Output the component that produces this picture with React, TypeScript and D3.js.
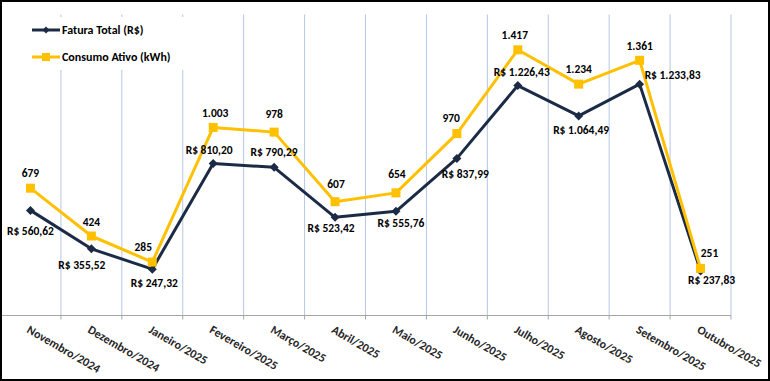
import React from "react";
import * as d3 from "d3";

const categories = [
  "Novembro/2024", "Dezembro/2024", "Janeiro/2025", "Fevereiro/2025", "Março/2025", "Abril/2025",
  "Maio/2025", "Junho/2025", "Julho/2025", "Agosto/2025", "Setembro/2025", "Outubro/2025",
];
const faturaTotal = [560.62, 355.52, 247.32, 810.2, 790.29, 523.42, 555.76, 837.99, 1226.43, 1064.49, 1233.83, 237.83];
const consumoAtivo = [679, 424, 285, 1003, 978, 607, 654, 970, 1417, 1234, 1361, 251];
const yDomain = [0, 1600];

// label placement nudges (layout, not data)
const faturaLabelDx = [0, -9.5, 2, -4, 0, -4, 5, 8.5, 4, 2.4, 0, 11];
const faturaLabelDy = [25, 20, 18, -10, -11, 14.5, 16, 19.4, -10, 17.6, -5.4, 13];
const faturaLabelAnchor = ["middle", "middle", "middle", "middle", "middle", "middle", "middle", "middle", "middle", "middle", "start", "middle"];
const consumoLabelDx = [0, 0, -9, 2, 0, 1, 1, -5.7, -3, 0, 0, 9];
const consumoLabelDy = [-11, -10, -11.3, -10.7, -14, -14, -14.5, -12, -10.8, -10.8, -10.4, -11];

const W = 770;
const H = 381;
const NAVY = "#1c2b45";
const GOLD = "#FFC000";
const GRID = "#b4c7e7";
const FONT = "Carlito, Calibri, Lato, sans-serif";

const fmtBRL = (v: number) => {
  const [i, d] = v.toFixed(2).split(".");
  const ii = i.replace(/\B(?=(\d{3})+(?!\d))/g, ".");
  return `R$ ${ii},${d}`;
};
const fmtInt = (v: number) => String(v).replace(/\B(?=(\d{3})+(?!\d))/g, ".");

export default function App() {
  const x = d3.scaleBand<string>().domain(categories).range([0, 731]).padding(0);
  const y = d3.scaleLinear().domain(yDomain).range([315.5, 15.5]);
  const cx = (i: number) => (x(categories[i]) as number) + x.bandwidth() / 2;

  const line = d3
    .line<number>()
    .x((_, i) => cx(i))
    .y((d) => y(d));

  const diamond = (r: number) => `M0,${-r}L${r},0L0,${r}L${-r},0Z`;
  const boundaries = d3.range(0, categories.length + 1).map((i) => i * x.step());
  const yTop = y(yDomain[1]) - 1;
  const yBase = y(0);

  return (
    <svg
      width={W}
      height={H}
      style={{ position: "absolute", left: 0, top: 0, background: "#fff" }}
      fontFamily={FONT}
    >
      <rect x={0} y={0} width={W} height={H} fill="#fff" />
      {/* gridlines */}
      {boundaries.slice(1).map((b, i) => (
        <line key={"g" + i} x1={b} x2={b} y1={yTop} y2={yBase} stroke={GRID} strokeWidth={1} />
      ))}
      {/* axis */}
      <line x1={0} x2={boundaries[boundaries.length - 1]} y1={yBase} y2={yBase} stroke="#a6a6a6" strokeWidth={1} />
      {boundaries.map((b, i) => (
        <line key={"t" + i} x1={b} x2={b} y1={yBase} y2={yBase + 4} stroke="#a6a6a6" strokeWidth={1} />
      ))}
      {categories.map((c, i) => (
        <text
          key={"c" + i}
          transform={`translate(${cx(i)},${yBase + 9}) rotate(30)`}
          fontSize={12}
          fontWeight="bold"
          fill="#262626"
          dominantBaseline="hanging"
        >
          {c}
        </text>
      ))}
      {/* legend */}
      <rect x={25} y={17} width={165} height={53} fill="#fff" />
      <line x1={32} x2={60} y1={30} y2={30} stroke={NAVY} strokeWidth={3} />
      <path d={diamond(3.5)} transform="translate(46,30)" fill={NAVY} />
      <text x={62} y={34} fontSize={12} fontWeight="bold" fill="#000">Fatura Total (R$)</text>
      <line x1={32} x2={60} y1={57} y2={57} stroke={GOLD} strokeWidth={3} />
      <rect x={42} y={53} width={8} height={8} fill={GOLD} />
      <text x={62} y={61} fontSize={12} fontWeight="bold" fill="#000">Consumo Ativo (kWh)</text>
      {/* series */}
      <path d={line(faturaTotal) || ""} fill="none" stroke={NAVY} strokeWidth={3} strokeLinejoin="round" />
      {faturaTotal.map((v, i) => (
        <path key={"fm" + i} d={diamond(4.5)} transform={`translate(${cx(i)},${y(v)})`} fill={NAVY} />
      ))}
      <path d={line(consumoAtivo) || ""} fill="none" stroke={GOLD} strokeWidth={3} strokeLinejoin="round" />
      {consumoAtivo.map((v, i) => (
        <rect key={"cm" + i} x={cx(i) - 4.5} y={y(v) - 4.5} width={9} height={9} fill={GOLD} />
      ))}
      {/* labels */}
      {faturaTotal.map((v, i) => (
        <text
          key={"fl" + i}
          x={cx(i) + (faturaLabelAnchor[i] === "start" ? 5 : faturaLabelDx[i])}
          y={y(v) + faturaLabelDy[i]}
          textAnchor={faturaLabelAnchor[i]}
          fontSize={11.5}
          fontWeight="bold"
          fill="#000"
        >
          {fmtBRL(v)}
        </text>
      ))}
      {consumoAtivo.map((v, i) => (
        <text
          key={"cl" + i}
          x={cx(i) + consumoLabelDx[i]}
          y={y(v) + consumoLabelDy[i]}
          textAnchor="middle"
          fontSize={11.5}
          fontWeight="bold"
          fill="#000"
        >
          {fmtInt(v)}
        </text>
      ))}
      {/* outer border */}
      <rect x={1} y={1} width={W - 2} height={H - 2} fill="none" stroke="#000" strokeWidth={2} />
    </svg>
  );
}
